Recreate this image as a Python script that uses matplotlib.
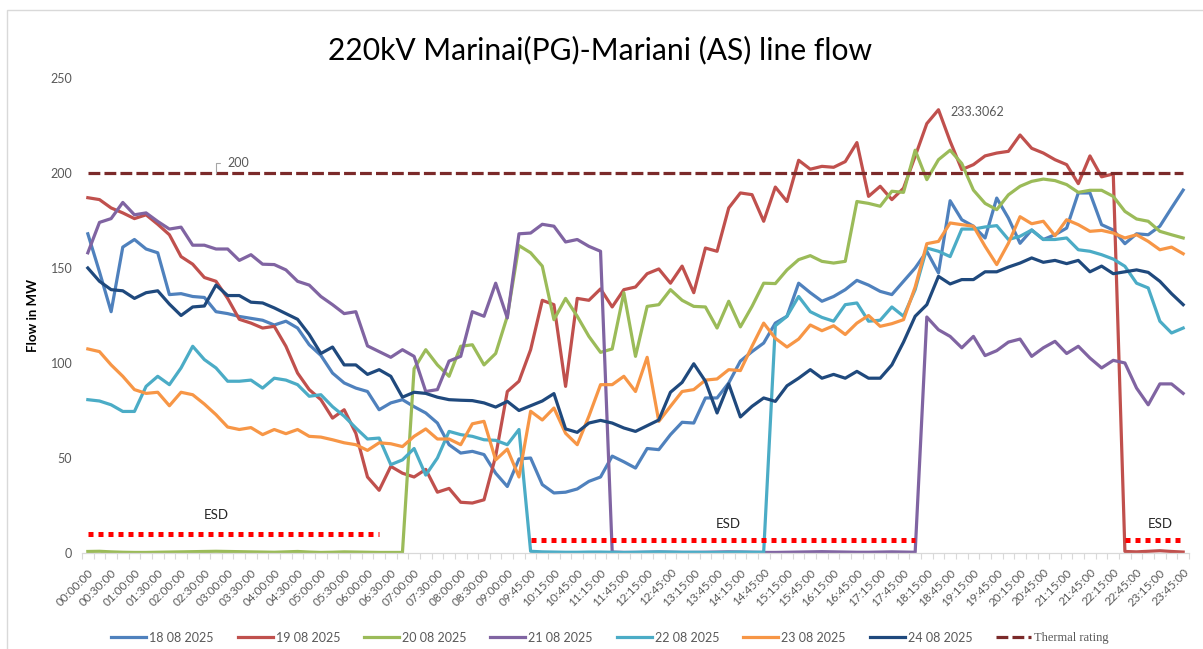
import numpy as np
import pandas as pd
import matplotlib
matplotlib.use("Agg")
import matplotlib.pyplot as plt
from matplotlib.patches import Rectangle

# categories: 15 min blocks, 09:30 missing in the source data
times = [t.strftime("%H:%M:%S") for t in pd.date_range("2025-08-18 00:00", periods=96, freq="15min")]
times = [t for t in times if t != "09:30:00"]

d18 = [168, 148, 127, 161, 165, 160, 158, 136, 136.5, 135, 134.5, 127, 126, 124.5, 123.5,
       122.5, 120, 122, 118.4, 109.6, 104, 94.7, 89.5, 86.8, 85, 75.4, 79, 80.7, 77, 73.7, 68.4,
       57, 52.6, 53.5, 51.8, 42, 35, 49.5, 50, 36, 31.6, 32, 33.7, 37.7, 40, 51, 48, 44.7,
       55, 54.4, 62.3, 68.8, 68.4, 81.6, 81.6, 89.5, 101, 106, 110.5, 121, 124.6, 142, 137, 132.5,
       135, 138.6, 143.5, 141, 137.7, 136, 143, 150, 158.8, 147.4, 185.4, 175.4, 172, 165.8, 186.8, 176.3,
       163, 170, 165, 167.5, 171, 189.5, 189.5, 172.8, 170, 162.8, 168, 167.5, 172, 181.6, 191]

d19 = [187, 186, 181.6, 179, 176, 178, 173, 167.5, 156, 152, 145, 143, 134, 123, 121,
       118.4, 119.3, 108.8, 94.7, 86, 80.7, 71, 75.4, 63, 40, 33, 45.6, 42, 40, 44, 32,
       34, 26.7, 26.3, 28, 51, 85, 90.4, 107, 133, 130.7, 87.7, 134, 133, 139, 129.5, 138.6, 140,
       147, 149.5, 142, 151, 137, 160.5, 158.8, 181.6, 189.5, 188.6, 174.6, 192.6, 185, 206.7, 202, 203.5,
       203, 206, 216, 187.7, 193, 186, 192, 208.8, 226, 233.3062, 216.7, 201.8, 204.4, 209, 210.5, 211.4,
       220, 213, 210.5, 207, 204.4, 194.4, 209, 198, 199.5, 0.8, 0.6, 0.9, 1.2, 0.8, 0.5]

d20 = [0.8, 0.9, 0.6, 0.4, 0.3, 0.3, 0.4, 0.5, 0.6, 0.7, 0.8, 0.9, 0.8, 0.7, 0.6, 0.5, 0.4, 0.6,
       0.8, 0.5, 0.3, 0.4, 0.6, 0.5, 0.4, 0.3, 0.3, 0.3,
       97, 107, 99, 93,
       108.8, 109.6, 99, 105, 124.6, 161.8, 158, 151, 122.8, 134, 124.6, 114, 105.6, 107.4, 137, 103.5,
       129.8, 130.7, 138.6, 133, 129.8, 129.5, 118.4, 132.5, 119, 129.8, 142, 141.8, 149, 154.4, 156.5, 153.5,
       152.6, 153.5, 185, 184, 182.5, 190.4, 189.8, 212, 196.5, 207, 212, 205, 191, 184, 180.7, 188.5,
       193, 195.6, 196.8, 196, 193.9, 189.8, 190.9, 190.9, 187.7, 179.8, 175.8, 174.6, 169.3, 167.5, 165.8]

d21 = [158, 174, 176, 184.5, 178, 179, 174.5, 170.5, 171.5, 162, 162, 160, 160, 154, 157,
       152, 151.8, 149, 143, 141, 135, 130.7, 126, 127, 109, 106, 103, 107, 103.5, 85, 86,
       101, 103.5, 127, 124.6, 142, 123.7, 168, 168.4, 173, 172, 163.7, 165, 161.4, 158.8,
       0.5, 0.3, 0.3, 0.4, 0.5, 0.4, 0.3, 0.3, 0.4, 0.5, 0.6, 0.5, 0.4, 0.3, 0.3, 0.4, 0.5, 0.6,
       0.7, 0.6, 0.5, 0.4, 0.4, 0.5, 0.6, 0.5, 0.4,
       124.2, 117.5, 114, 108, 114, 103.9, 106.5, 111,
       112.6, 103.5, 108, 111.4, 105, 108.8, 102.6, 97.4, 101.4, 100, 86.8, 78, 89, 89, 84]

d22 = [80.7, 80, 78, 74.5, 74.5, 87.7, 93, 88.6, 97.4, 108.8, 101.8, 97.4, 90.4, 90.4, 91,
       86.8, 92, 91, 88.6, 82.5, 83.3, 77, 72, 65.8, 60, 60.5, 46.5, 49, 55, 41, 50,
       64, 62.3, 61.4, 59.6, 59.3, 57, 65,
       0.9, 0.6, 0.5, 0.4, 0.4, 0.5, 0.5, 0.4, 0.3, 0.4, 0.5, 0.6, 0.5, 0.4, 0.4, 0.3, 0.3, 0.4,
       0.5, 0.4, 0.4,
       119.6, 124.6, 135, 127, 124, 122, 130.7, 131.6, 122, 122.5, 129.5, 124.6, 138.6, 160.5, 158.8, 156,
       170.5, 170.5, 171.6, 172.3, 165,
       166.7, 170, 165, 165, 165.8, 159.6, 158.8, 157, 154.7, 150.9, 142, 139.5, 122, 115.8, 118.4]

d23 = [107.4, 106, 99, 93, 86, 84, 84.6, 77.5, 84.6, 83.3, 78.4, 72.8, 66.3, 65, 66,
       62.3, 65, 62.8, 65, 61.4, 61, 59.6, 58, 57, 54, 58, 57.5, 56, 61.4, 65.3, 60,
       60, 57, 68, 69.3, 49, 54.7, 40, 74.6, 70, 76.3, 63, 57, 72, 88.6, 88.6, 93, 85,
       103, 69.3, 77.2, 85, 86, 91, 91.6, 96.5, 96, 108.8, 121, 113, 108.4, 112.6, 120, 117,
       119.6, 115, 121, 125, 119.3, 120.7, 122.8, 140, 162.8, 164, 173.7, 172.8, 172, 161.4, 151.8, 163,
       177, 173.3, 174.6, 167, 175.4, 172.8, 169.3, 169.8, 168.4, 165.8, 167.5, 164, 159.6, 161, 157.5]

d24 = [150, 143, 138.6, 138, 134, 137, 138, 131, 125, 129.5, 130, 141, 135.5, 135.5, 132,
       131.6, 129, 126, 123, 115, 105, 108.4, 99, 99, 94, 96.5, 93, 82, 84.6, 84, 82,
       80.7, 80.4, 80.2, 79, 76.8, 79.8, 75, 77.5, 80, 83.9, 65.3, 63.5, 68.4, 69.8, 68.4, 65.8, 64,
       67, 70, 84.6, 89.8, 99.6, 90.4, 73.7, 89, 71.6, 77.2, 81.6, 79.8, 88, 92, 96.5, 92,
       94, 92, 95.6, 92, 92, 99, 111, 124.6, 130.7, 145.6, 141.6, 143.9, 143.9, 148, 148, 150.5,
       152.6, 155.3, 153, 154, 152.3, 154, 148, 151, 147, 148, 149, 147.7, 143, 136.5, 130.7]

thermal_rating = 200
esd_levels = [10, 7, 7]
esd_spans = [(0, 25), (38, 71), (89, 94)]   # category index ranges
esd_text_pos = [(11, 20), (55, 15.5), (92, 15.5)]

labels = ["18 08 2025", "19 08 2025", "20 08 2025", "21 08 2025",
          "22 08 2025", "23 08 2025", "24 08 2025"]
colors = ["#4F81BD", "#C0504D", "#9BBB59", "#8064A2", "#4BACC6", "#F79646", "#1F497D"]

plt.rcParams["font.family"] = ["Lato", "DejaVu Sans"]

fig = plt.figure(figsize=(12.03, 6.49), dpi=100)
W, H = 1203, 649
ax = fig.add_axes([82 / W, 1 - 553 / H, (1189 - 82) / W, (553 - 78) / H])

x = np.arange(len(times))
handles = []
for vals, col, lab in zip([d18, d19, d20, d21, d22, d23, d24], colors, labels):
    h, = ax.plot(x, vals, color=col, lw=2.3, label=lab, solid_joinstyle="round")
    handles.append(h)

th, = ax.plot(x, [thermal_rating] * len(x), color="#7B2A2A", lw=2.3,
              dashes=(3.7, 1.3), label="Thermal rating")
handles.append(th)

# ESD markers
for lvl, (a, b), (tx, ty) in zip(esd_levels, esd_spans, esd_text_pos):
    xs = np.arange(a, b + 1)
    ax.plot(xs, [lvl] * len(xs), color="#FF0000", lw=3.6, dashes=(1, 1),
            dash_capstyle="butt")
    ax.text(tx, ty, "ESD", ha="center", va="center", fontsize=9.5, color="#262626")

# data labels
ax.annotate("200", xy=(11, 200), xytext=(11, 10), textcoords="offset pixels",
            ha="left", va="center", fontsize=9, color="#595959",
            arrowprops=dict(arrowstyle="-", color="#a6a6a6", lw=0.8, shrinkA=3, shrinkB=0,
                            connectionstyle="angle,angleA=0,angleB=90,rad=0"))
ax.annotate("233.3062", xy=(73, 233.3062), xytext=(12, -2), textcoords="offset pixels",
            ha="left", va="center", fontsize=9, color="#595959")

ax.set_xlim(-0.5, len(x) - 0.5)
ax.set_ylim(0, 250)
ax.set_yticks(range(0, 251, 50))
ax.tick_params(axis="y", length=0, labelsize=9, labelcolor="#595959", pad=7)

ax.set_xticks(x[::2])
ax.set_xticklabels(times[::2], rotation=45, ha="right", rotation_mode="anchor",
                   fontsize=8.5, color="#595959")
ax.set_xticks(np.arange(-0.5, len(x), 1), minor=True)
ax.tick_params(axis="x", which="major", length=0, pad=10)
ax.tick_params(axis="x", which="minor", length=4, color="#d9d9d9", width=0.8)

for s in ["top", "right", "left"]:
    ax.spines[s].set_visible(False)
ax.spines["bottom"].set_color("#d9d9d9")
ax.spines["bottom"].set_linewidth(0.9)

fig.text(33 / W, 1 - 315 / H, "Flow in MW", rotation=90, ha="center", va="center",
         fontsize=9.5, fontweight="bold", color="#000000")
fig.text(600 / W, 1 - 50 / H, "220kV Marinai(PG)-Mariani (AS) line flow",
         ha="center", va="center", fontsize=21.6, color="#000000")

leg = fig.legend(handles=handles, ncol=8, loc="center", bbox_to_anchor=(610 / W, 1 - 638 / H),
                 frameon=False, fontsize=9, handlelength=2.8, handletextpad=0.25,
                 columnspacing=1.9, labelcolor="#595959")
leg.get_texts()[-1].set_family("Liberation Serif")

fig.add_artist(Rectangle((7 / W, -0.1), 1.2, 1 - 10 / H + 0.1, transform=fig.transFigure,
                         fill=False, edgecolor="#d9d9d9", lw=1))

plt.savefig("out.png", dpi=100)
